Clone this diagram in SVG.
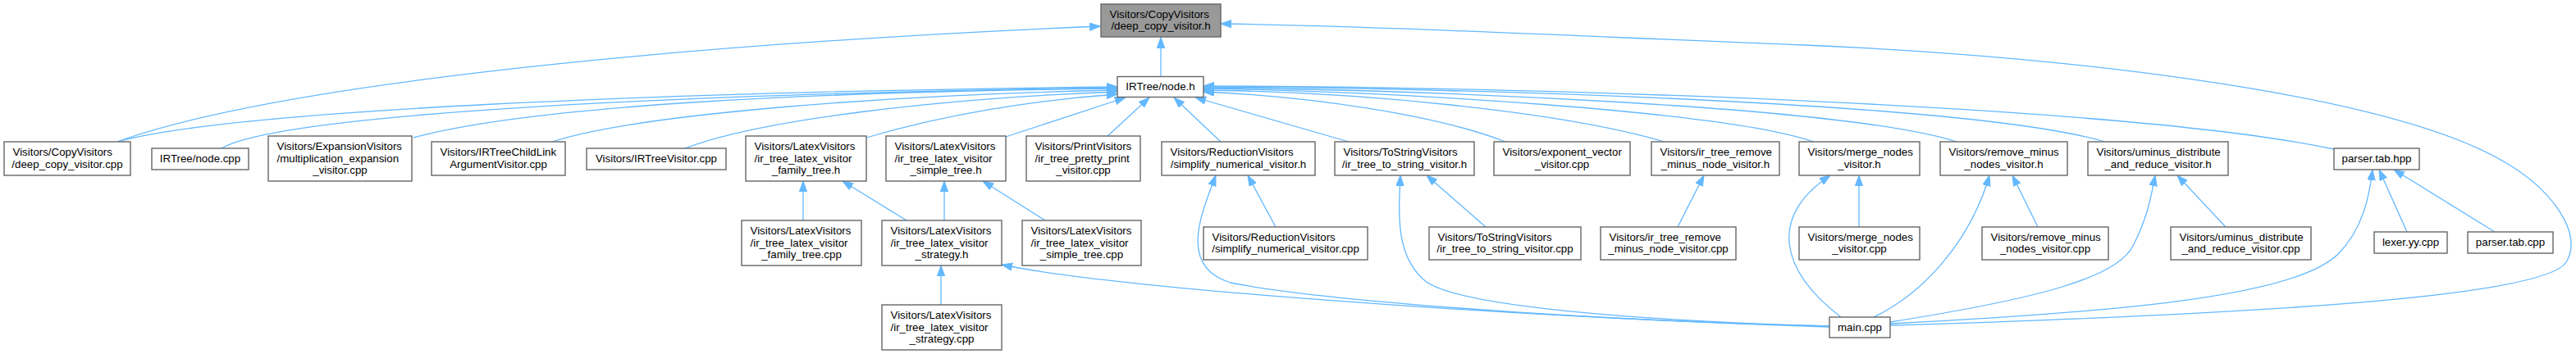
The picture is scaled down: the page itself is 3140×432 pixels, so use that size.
<svg xmlns="http://www.w3.org/2000/svg" width="3140" height="432" viewBox="0 0 3140 432">
<style>
.node rect{fill:#ffffff;stroke:#666666;stroke-width:1.4}
.node.cur rect{fill:#999999}
text{font-family:"Liberation Sans",Arial,Helvetica,sans-serif;font-size:13.3px;fill:#000000}
.m{text-anchor:middle}
.edge path{fill:none;stroke:#63b8ff;stroke-width:1.3}
</style>
<defs>
<marker id="ah" markerUnits="userSpaceOnUse" markerWidth="14" markerHeight="10" refX="13" refY="4.7" orient="auto">
<path d="M0,0 L13,4.7 L0,9.4 z" fill="#63b8ff" stroke="#63b8ff" stroke-width="1"/>
</marker>
</defs>
<rect width="3140" height="432" fill="#ffffff"/>
<g id="edges" class="edge">
<path marker-end="url(#ah)" d="M1415,93 L1415,45.5"/>
<path marker-end="url(#ah)" d="M143,173 C330,105 800,55 1341,32"/>
<path marker-end="url(#ah)" d="M2304,397 C2700,385 3100,365 3128,320 C3150,285 3110,230 3050,196 C2900,110 2500,68 2200,55 C1900,43 1650,31 1488,29"/>
<path marker-end="url(#ah)" d="M143,173 C280,135 800,112 1362,106"/>
<path marker-end="url(#ah)" d="M270,181 C340,140 800,115 1362,107"/>
<path marker-end="url(#ah)" d="M504,168 C650,128 1000,112 1362,108"/>
<path marker-end="url(#ah)" d="M673,173 C780,138 1100,115 1362,110"/>
<path marker-end="url(#ah)" d="M835,181 C930,145 1150,120 1362,112"/>
<path marker-end="url(#ah)" d="M1056,168 C1150,140 1260,122 1362,115"/>
<path marker-end="url(#ah)" d="M1226,167 L1372,119"/>
<path marker-end="url(#ah)" d="M1349,167 L1401,119"/>
<path marker-end="url(#ah)" d="M1488,173 L1431,119"/>
<path marker-end="url(#ah)" d="M1644,173 L1457,119"/>
<path marker-end="url(#ah)" d="M1835,173 C1750,140 1600,118 1467,112"/>
<path marker-end="url(#ah)" d="M2029,173 C1900,135 1650,112 1467,110"/>
<path marker-end="url(#ah)" d="M2211,173 C2100,135 1700,112 1467,108"/>
<path marker-end="url(#ah)" d="M2385,173 C2250,130 1750,110 1467,107"/>
<path marker-end="url(#ah)" d="M2566,173 C2400,125 1800,108 1467,106"/>
<path marker-end="url(#ah)" d="M2845,182 C2600,130 1900,106 1467,105"/>
<path marker-end="url(#ah)" d="M979,269 L979,221"/>
<path marker-end="url(#ah)" d="M1105,269 L1027,221"/>
<path marker-end="url(#ah)" d="M1151,269 L1151,221"/>
<path marker-end="url(#ah)" d="M1274,269 L1198,221"/>
<path marker-end="url(#ah)" d="M1147,372 L1147,324"/>
<path marker-end="url(#ah)" d="M2230,399 C1800,385 1350,350 1221,323"/>
<path marker-end="url(#ah)" d="M2230,398 C1900,390 1600,365 1500,345 C1435,325 1465,260 1482,214"/>
<path marker-end="url(#ah)" d="M1555,277 L1521,214"/>
<path marker-end="url(#ah)" d="M2230,398 C1950,390 1780,370 1740,345 C1700,315 1705,260 1707,214"/>
<path marker-end="url(#ah)" d="M1811,277 L1739,214"/>
<path marker-end="url(#ah)" d="M2045,277 L2077,214"/>
<path marker-end="url(#ah)" d="M2266,277 L2266,214"/>
<path marker-end="url(#ah)" d="M2244,387 C2170,330 2155,265 2231,214"/>
<path marker-end="url(#ah)" d="M2284,387 C2340,360 2400,300 2425,214"/>
<path marker-end="url(#ah)" d="M2484,277 L2453,214"/>
<path marker-end="url(#ah)" d="M2304,393 C2480,365 2580,340 2600,300 C2618,265 2622,240 2627,214"/>
<path marker-end="url(#ah)" d="M2713,277 L2654,214"/>
<path marker-end="url(#ah)" d="M2304,395 C2600,380 2800,360 2850,310 C2880,280 2888,240 2892,207"/>
<path marker-end="url(#ah)" d="M2934,283 L2900,207"/>
<path marker-end="url(#ah)" d="M3041,283 L2918,207"/>
</g>
<g id="n0" class="node cur"><rect x="1342" y="5" width="146" height="40"/><text x="1352.5" y="21.85">Visitors/CopyVisitors</text><text class="m" x="1415" y="36.15">/deep_copy_visitor.h</text></g>
<g id="n1" class="node"><rect x="1362" y="93.5" width="105" height="25"/><text class="m" x="1414.5" y="110">IRTree/node.h</text></g>
<g id="n2" class="node"><rect x="5" y="173" width="154" height="41"/><text x="15.5" y="190.35">Visitors/CopyVisitors</text><text class="m" x="82" y="204.65">/deep_copy_visitor.cpp</text></g>
<g id="n3" class="node"><rect x="185" y="181" width="118" height="26"/><text class="m" x="244" y="198">IRTree/node.cpp</text></g>
<g id="n4" class="node"><rect x="327" y="166" width="175" height="55"/><text x="337.5" y="183.2">Visitors/ExpansionVisitors</text><text x="337.5" y="197.5">/multiplication_expansion</text><text class="m" x="414.5" y="211.8">_visitor.cpp</text></g>
<g id="n5" class="node"><rect x="526" y="173" width="163" height="41"/><text x="536.5" y="190.35">Visitors/IRTreeChildLink</text><text class="m" x="607.5" y="204.65">ArgumentVisitor.cpp</text></g>
<g id="n6" class="node"><rect x="715" y="181" width="170" height="26"/><text class="m" x="800" y="198">Visitors/IRTreeVisitor.cpp</text></g>
<g id="n7" class="node"><rect x="909" y="166" width="147" height="55"/><text x="919.5" y="183.2">Visitors/LatexVisitors</text><text x="919.5" y="197.5">/ir_tree_latex_visitor</text><text class="m" x="982.5" y="211.8">_family_tree.h</text></g>
<g id="n8" class="node"><rect x="1080" y="166" width="146" height="55"/><text x="1090.5" y="183.2">Visitors/LatexVisitors</text><text x="1090.5" y="197.5">/ir_tree_latex_visitor</text><text class="m" x="1153" y="211.8">_simple_tree.h</text></g>
<g id="n9" class="node"><rect x="1251" y="166" width="139" height="55"/><text x="1261.5" y="183.2">Visitors/PrintVisitors</text><text x="1261.5" y="197.5">/ir_tree_pretty_print</text><text class="m" x="1320.5" y="211.8">_visitor.cpp</text></g>
<g id="n10" class="node"><rect x="1416" y="173" width="187" height="41"/><text x="1426.5" y="190.35">Visitors/ReductionVisitors</text><text class="m" x="1509.5" y="204.65">/simplify_numerical_visitor.h</text></g>
<g id="n11" class="node"><rect x="1627" y="173" width="170" height="41"/><text x="1637.5" y="190.35">Visitors/ToStringVisitors</text><text class="m" x="1712" y="204.65">/ir_tree_to_string_visitor.h</text></g>
<g id="n12" class="node"><rect x="1821" y="173" width="166" height="41"/><text x="1831.5" y="190.35">Visitors/exponent_vector</text><text class="m" x="1904" y="204.65">_visitor.cpp</text></g>
<g id="n13" class="node"><rect x="2013" y="173" width="156" height="41"/><text x="2023.5" y="190.35">Visitors/ir_tree_remove</text><text class="m" x="2091" y="204.65">_minus_node_visitor.h</text></g>
<g id="n14" class="node"><rect x="2193" y="173" width="147" height="41"/><text x="2203.5" y="190.35">Visitors/merge_nodes</text><text class="m" x="2266.5" y="204.65">_visitor.h</text></g>
<g id="n15" class="node"><rect x="2365" y="173" width="155" height="41"/><text x="2375.5" y="190.35">Visitors/remove_minus</text><text class="m" x="2442.5" y="204.65">_nodes_visitor.h</text></g>
<g id="n16" class="node"><rect x="2545" y="173" width="171" height="41"/><text x="2555.5" y="190.35">Visitors/uminus_distribute</text><text class="m" x="2630.5" y="204.65">_and_reduce_visitor.h</text></g>
<g id="n17" class="node"><rect x="2845" y="181" width="104" height="26"/><text class="m" x="2897" y="198">parser.tab.hpp</text></g>
<g id="n18" class="node"><rect x="904" y="269" width="146" height="55"/><text x="914.5" y="286.2">Visitors/LatexVisitors</text><text x="914.5" y="300.5">/ir_tree_latex_visitor</text><text class="m" x="977" y="314.8">_family_tree.cpp</text></g>
<g id="n19" class="node"><rect x="1075" y="269" width="146" height="55"/><text x="1085.5" y="286.2">Visitors/LatexVisitors</text><text x="1085.5" y="300.5">/ir_tree_latex_visitor</text><text class="m" x="1148" y="314.8">_strategy.h</text></g>
<g id="n20" class="node"><rect x="1246" y="269" width="145" height="55"/><text x="1256.5" y="286.2">Visitors/LatexVisitors</text><text x="1256.5" y="300.5">/ir_tree_latex_visitor</text><text class="m" x="1318.5" y="314.8">_simple_tree.cpp</text></g>
<g id="n21" class="node"><rect x="1467" y="277" width="200" height="40"/><text x="1477.5" y="293.85">Visitors/ReductionVisitors</text><text class="m" x="1567" y="308.15">/simplify_numerical_visitor.cpp</text></g>
<g id="n22" class="node"><rect x="1742" y="277" width="185" height="40"/><text x="1752.5" y="293.85">Visitors/ToStringVisitors</text><text class="m" x="1834.5" y="308.15">/ir_tree_to_string_visitor.cpp</text></g>
<g id="n23" class="node"><rect x="1951" y="277" width="165" height="40"/><text x="1961.5" y="293.85">Visitors/ir_tree_remove</text><text class="m" x="2033.5" y="308.15">_minus_node_visitor.cpp</text></g>
<g id="n24" class="node"><rect x="2193" y="277" width="147" height="40"/><text x="2203.5" y="293.85">Visitors/merge_nodes</text><text class="m" x="2266.5" y="308.15">_visitor.cpp</text></g>
<g id="n25" class="node"><rect x="2416" y="277" width="154" height="40"/><text x="2426.5" y="293.85">Visitors/remove_minus</text><text class="m" x="2493" y="308.15">_nodes_visitor.cpp</text></g>
<g id="n26" class="node"><rect x="2646" y="277" width="171" height="40"/><text x="2656.5" y="293.85">Visitors/uminus_distribute</text><text class="m" x="2731.5" y="308.15">_and_reduce_visitor.cpp</text></g>
<g id="n27" class="node"><rect x="2894" y="283" width="89" height="26"/><text class="m" x="2938.5" y="300">lexer.yy.cpp</text></g>
<g id="n28" class="node"><rect x="3008" y="283" width="104" height="26"/><text class="m" x="3060" y="300">parser.tab.cpp</text></g>
<g id="n29" class="node"><rect x="1075" y="372" width="146" height="55"/><text x="1085.5" y="389.2">Visitors/LatexVisitors</text><text x="1085.5" y="403.5">/ir_tree_latex_visitor</text><text class="m" x="1148" y="417.8">_strategy.cpp</text></g>
<g id="n30" class="node"><rect x="2230" y="387" width="74" height="25"/><text class="m" x="2267" y="403.5">main.cpp</text></g>
</svg>
